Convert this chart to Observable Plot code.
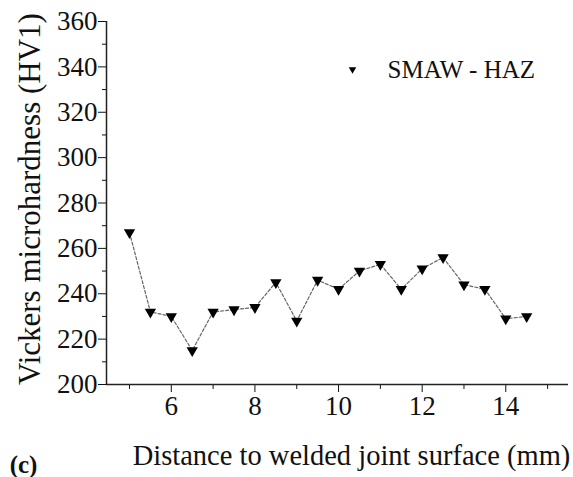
<!DOCTYPE html>
<html>
<head>
<meta charset="utf-8">
<script src="https://cdn.jsdelivr.net/npm/d3@7"></script>
<script src="https://cdn.jsdelivr.net/npm/@observablehq/plot@0.6"></script>
<style>
  html, body { margin: 0; padding: 0; background: #fff; }
  #chart svg { display: block; }
  #chart svg, #chart svg text, #chart svg g { font-family: 'Liberation Serif', 'Times New Roman', serif !important; font-variant: normal !important; }
</style>
</head>
<body>
<div id="chart"></div>
<script>
// Vickers microhardness across the heat-affected zone (SMAW)
const distance = [5, 5.5, 6, 6.5, 7, 7.5, 8, 8.5, 9, 9.5, 10, 10.5, 11, 11.5, 12, 12.5, 13, 13.5, 14, 14.5];
const hardness = [267, 232, 230, 215, 232, 233, 234, 245, 228, 246, 242, 250, 253, 242, 251, 256, 244, 242, 229, 230];
const seriesName = "SMAW - HAZ";

const xMajor = [6, 8, 10, 12, 14];
const xMinor = [5, 7, 9, 11, 13, 15];
const yMajor = [200, 220, 240, 260, 280, 300, 320, 340, 360];
const yMinor = [210, 230, 250, 270, 290, 310, 330, 350];

const xTitle = "Distance to welded joint surface (mm)";
const yTitle = "Vickers microhardness (HV1)";
const panel = "(c)";

const data = distance.map((d, i) => ({x: d, y: hardness[i]}));

const font = "'Liberation Serif', 'Times New Roman', serif";

const chart = Plot.plot({
  width: 573,
  height: 477,
  marginLeft: 106,
  marginRight: 5,
  marginTop: 21,
  marginBottom: 93,
  style: {fontFamily: font, color: "#111", background: "#fff", overflow: "visible"},
  x: {domain: [4.45, 15.5]},
  y: {domain: [200, 360]},
  marks: [
    // tick marks
    Plot.axisY(yMajor, {tickSize: 8, label: null, tickFormat: () => ""}),
    Plot.axisY(yMinor, {tickSize: 4, label: null, tickFormat: () => ""}),
    Plot.axisX(xMajor, {tickSize: 8, label: null, tickFormat: () => ""}),
    Plot.axisX(xMinor, {tickSize: 5, label: null, tickFormat: () => ""}),
    // tick labels
    Plot.text(yMajor, {y: d => d, frameAnchor: "left", dx: -9, textAnchor: "end", lineAnchor: "middle", text: d => String(d), fontSize: 27, fontFamily: font, fill: "#111"}),
    Plot.text(xMajor, {x: d => d, frameAnchor: "bottom", dy: 11, textAnchor: "middle", lineAnchor: "top", text: d => String(d), fontSize: 27, fontFamily: font, fill: "#111"}),
    // axis lines
    Plot.ruleX([4.45], {stroke: "#222", strokeWidth: 1.5}),
    Plot.ruleY([200], {stroke: "#222", strokeWidth: 1.5}),
    Plot.line(data, {x: "x", y: "y", stroke: "#666", strokeWidth: 1.2, strokeDasharray: "3,2"}),
    Plot.dot(data, {x: "x", y: "y", symbol: "triangle", rotate: 180, r: 4.2, fill: "#000", stroke: "none"}),
    // legend
    Plot.dot([seriesName], {frameAnchor: "top-left", dx: 246, dy: 48, symbol: "triangle", rotate: 180, r: 2.8, fill: "#000", stroke: "none"}),
    Plot.text([seriesName], {frameAnchor: "top-left", dx: 281, dy: 48, textAnchor: "start", lineAnchor: "middle", fontSize: 25, fontFamily: font, fill: "#111"}),
    // axis titles
    Plot.text([yTitle], {frameAnchor: "left", dx: -76, dy: -4, rotate: -90, textAnchor: "middle", lineAnchor: "middle", fontSize: 31, fontFamily: font, fill: "#111"}),
    Plot.text([xTitle], {frameAnchor: "bottom", dx: 14, dy: 71, textAnchor: "middle", lineAnchor: "middle", fontSize: 28.5, fontFamily: font, fill: "#111"}),
    Plot.text([panel], {frameAnchor: "bottom-left", dx: -83, dy: 80, textAnchor: "middle", lineAnchor: "middle", fontSize: 25, fontWeight: "bold", fontFamily: font, fill: "#111"})
  ]
});

document.getElementById("chart").appendChild(chart);
</script>
</body>
</html>
